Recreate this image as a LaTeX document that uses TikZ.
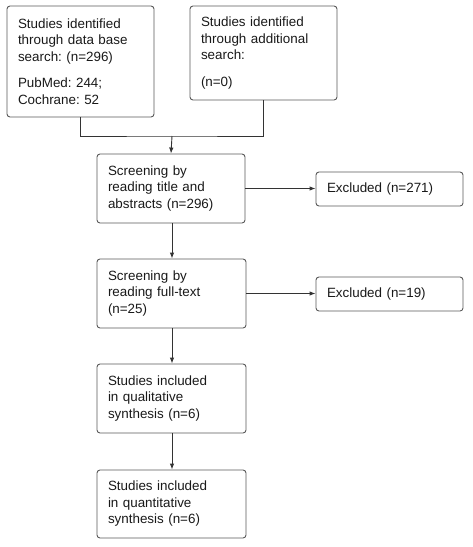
\documentclass[tikz,border=0pt]{standalone}
\usepackage{fontspec}
\setmainfont{Liberation Sans}
\usetikzlibrary{arrows.meta}
\frenchspacing
\begin{document}
\begin{tikzpicture}[x=1pt,y=-1pt,
  box/.style={draw=black!65, line width=0.9pt, rounded corners=3pt, inner xsep=11pt, inner ysep=0pt,
    align=left, font=\fontsize{13.4}{16.5}\selectfont\frenchspacing, text=black!90},
  link/.style={draw=black!80, line width=0.9pt},
  arr/.style={link, -{Latex[length=6pt,width=4.5pt]}}]
\useasboundingbox (0,0) rectangle (473,547);
\node[box, minimum width=147pt, minimum height=111pt, text width=125pt] (A) at (80.5,61.5)
  {Studies identified\\through data base\\search: (n=296)\\[10pt]PubMed: 244;\\Cochrane: 52};
\node[box, minimum width=147pt, minimum height=94pt, text width=125pt] (B) at (263.5,53)
  {Studies identified\\through additional\\search:\\[10pt](n=0)};
\node[box, minimum width=148pt, minimum height=69pt, text width=126pt] (C) at (171,188.5)
  {Screening by\\reading title and\\abstracts (n=296)};
\node[box, minimum width=147pt, minimum height=34pt, text width=125pt] (X1) at (389.5,189)
  {Excluded (n=271)};
\node[box, minimum width=149pt, minimum height=69pt, text width=127pt] (D) at (171.5,293.5)
  {Screening by\\reading full-text\\(n=25)};
\node[box, minimum width=147pt, minimum height=34pt, text width=125pt] (X2) at (389.5,294)
  {Excluded (n=19)};
\node[box, minimum width=149pt, minimum height=69pt, text width=127pt] (E) at (171.5,398.5)
  {Studies included\\in qualitative\\synthesis (n=6)};
\node[box, minimum width=149pt, minimum height=68pt, text width=127pt] (F) at (171.5,504)
  {Studies included\\in quantitative\\synthesis (n=6)};
\coordinate (m) at (172,136);
\draw[link] (A.south) |- (m) -| (B.south);
\draw[arr] (m) -- (C.north);
\draw[arr] (C) -- (X1.west |- C);
\draw[arr] (D) -- (X2.west |- D);
\draw[arr] (C.south -| m) -- (D.north -| m);
\draw[arr] (D.south -| m) -- (E.north -| m);
\draw[arr] (E.south -| m) -- (F.north -| m);
\end{tikzpicture}
\end{document}
